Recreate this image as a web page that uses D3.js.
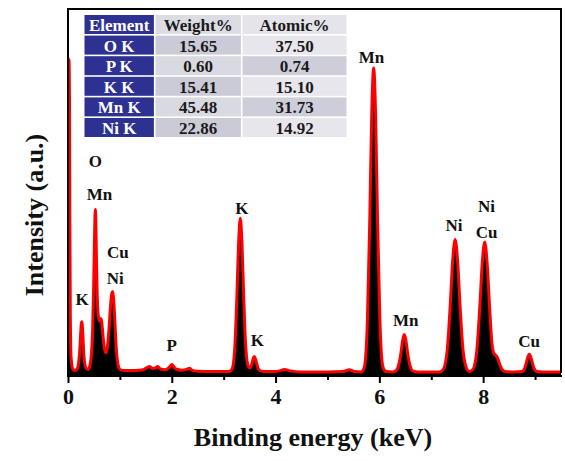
<!DOCTYPE html>
<html>
<head>
<meta charset="utf-8">
<script src="https://cdn.jsdelivr.net/npm/d3@7"></script>
<style>
  html, body { margin: 0; padding: 0; background: #fff; }
  svg { display: block; }
  text { font-family: "Liberation Serif", "Times New Roman", serif; font-weight: bold; }
</style>
</head>
<body>
<svg id="chart" width="565" height="461"></svg>
<script>
// EDS spectrum: energy (keV) and counts (arbitrary units)
const energyKeV = [
  0, 0.02, 0.03, 0.036, 0.045, 0.06, 0.09, 0.13,
  0.17, 0.205, 0.228, 0.243, 0.255, 0.265, 0.276, 0.288, 0.303, 0.328, 0.358, 0.39,
  0.42, 0.45, 0.475, 0.495, 0.51, 0.52, 0.527, 0.535, 0.547, 0.563, 0.583, 0.605, 0.625, 0.642, 0.66, 0.685, 0.71, 0.735,
  0.76, 0.79, 0.82, 0.845, 0.862, 0.878, 0.9, 0.925, 0.95, 0.98, 1.02,
  1.1, 1.3, 1.45, 1.52, 1.57, 1.62, 1.67, 1.73, 1.78, 1.88, 1.94, 1.97, 2.0, 2.03, 2.08, 2.2, 2.3, 2.34, 2.39, 2.5, 2.8, 3.1,
  3.164, 3.216, 3.255, 3.2875, 3.32, 3.3525, 3.385, 3.424, 3.476,
  3.51, 3.54, 3.565, 3.59, 3.615, 3.64, 3.67, 3.71, 3.8,
  3.95, 4.08, 4.17, 4.28, 4.5, 5.0, 5.3, 5.42, 5.52, 5.65,
  5.71, 5.77, 5.815, 5.852, 5.89, 5.928, 5.965, 6.01, 6.07, 6.13,
  6.25, 6.32, 6.368, 6.415, 6.448, 6.48, 6.512, 6.545, 6.592, 6.64, 6.75,
  7.16, 7.232, 7.308, 7.365, 7.4125, 7.46, 7.5075, 7.555, 7.612, 7.688, 7.73,
  7.802, 7.878, 7.935, 7.9825, 8.03, 8.0775, 8.125, 8.17, 8.205, 8.24, 8.275, 8.32, 8.37, 8.43, 8.6,
  8.746, 8.794, 8.83, 8.86, 8.89, 8.92, 8.95, 8.986, 9.034, 9.15, 9.5
];
const counts = [
  865, 860, 720, 420, 160, 50, 20, 15,
  18, 36, 72, 112, 140, 148, 138, 108, 64, 30, 20, 18,
  28, 58, 128, 248, 368, 438, 454, 428, 330, 220, 165, 150, 157, 154, 133, 94, 70, 63,
  80, 128, 192, 226, 230, 212, 158, 88, 44, 23, 16,
  15, 15, 17, 23, 26, 21, 21, 26, 19, 17, 22, 27, 31, 27, 19, 16, 19, 21, 16, 13, 12, 12,
  20, 82, 220, 362, 430, 362, 220, 82, 26,
  22, 32, 46, 53, 46, 32, 19, 14, 12,
  12, 14, 18, 14, 11, 11, 12, 17, 12, 11,
  24, 153, 425, 708, 839, 708, 425, 153, 24, 12,
  11, 14, 28, 62, 97, 113, 97, 62, 28, 14, 11,
  11, 18, 71, 191, 314, 372, 314, 191, 71, 18, 12,
  18, 70, 188, 308, 365, 306, 186, 88, 62, 57, 50, 32, 17, 12, 11,
  12, 19, 35, 51, 59, 51, 35, 19, 12, 11, 11
];

// Peak annotations (anchor in keV / counts)
const peakLabels = ["O", "Mn", "Cu", "Ni", "K", "P", "K", "K", "Mn", "Mn", "Ni", "Ni", "Cu", "Cu"];
const peakLabelKeV = [0.525, 0.608, 0.962, 0.91, 0.27, 2.0, 3.35, 3.65, 5.85, 6.51, 7.44, 8.065, 8.065, 8.885];
const peakLabelCounts = [584, 495, 336, 266, 209, 84, 457, 96, 868, 150, 409, 461, 390, 95];

// Quantification table
const tableHeader = ["Element", "Weight%", "Atomic%"];
const elements = ["O K", "P K", "K K", "Mn K", "Ni K"];
const weightPct = ["15.65", "0.60", "15.41", "45.48", "22.86"];
const atomicPct = ["37.50", "0.74", "15.10", "31.73", "14.92"];

// Axis ticks
const majorTicks = [0, 2, 4, 6, 8];
const minorTicks = [1, 3, 5, 7, 9];

const svg = d3.select("#chart");
const plot = { left: 68, right: 561, top: 9, bottom: 376 };

const x = d3.scaleLinear().domain([0, 9.5]).range([plot.left, plot.right]);
const y = d3.scaleLinear().domain([0, 1000]).range([plot.bottom, plot.top]);

const spectrum = energyKeV.map((e, i) => ({ e, c: counts[i] }));

svg.append("defs").append("clipPath").attr("id", "plotClip")
  .append("rect")
  .attr("x", plot.left - 1).attr("y", plot.top)
  .attr("width", plot.right - plot.left + 1).attr("height", plot.bottom - plot.top);

const g = svg.append("g").attr("clip-path", "url(#plotClip)");

const area = d3.area()
  .x(d => x(d.e)).y0(y(0)).y1(d => y(d.c))
  .curve(d3.curveMonotoneX);
const line = d3.line()
  .x(d => x(d.e)).y(d => y(d.c))
  .curve(d3.curveMonotoneX);

g.append("path").datum(spectrum).attr("d", area).attr("fill", "#000");
g.append("path").datum(spectrum).attr("d", line)
  .attr("fill", "none").attr("stroke", "#ff0000").attr("stroke-width", 3)
  .attr("stroke-linejoin", "round");

// Frame
svg.append("path")
  .attr("d", `M${plot.left},${plot.bottom} V${plot.top} H${plot.right} V${plot.bottom - 3}`)
  .attr("fill", "none").attr("stroke", "#000").attr("stroke-width", 2);

// Bottom axis: labelled major ticks and short minor ticks
const axisMajor = d3.axisBottom(x).tickValues(majorTicks).tickSize(7).tickPadding(5).tickFormat(d3.format("d"));
const axisMinor = d3.axisBottom(x).tickValues(minorTicks).tickSize(4).tickFormat("");

const gMinor = svg.append("g").attr("transform", `translate(0,${plot.bottom})`).call(axisMinor);
const gMajor = svg.append("g").attr("transform", `translate(0,${plot.bottom})`).call(axisMajor);
[gMinor, gMajor].forEach(a => {
  a.select(".domain").remove();
  a.selectAll(".tick line").attr("stroke", "#000").attr("stroke-width", 2);
});
gMajor.selectAll(".tick text")
  .attr("font-size", 22).attr("fill", "#111")
  .attr("font-family", "'Liberation Serif', 'Times New Roman', serif")
  .attr("font-weight", "bold");
svg.append("line")
  .attr("x1", plot.left - 1).attr("x2", plot.right + 1)
  .attr("y1", plot.bottom).attr("y2", plot.bottom)
  .attr("stroke", "#000").attr("stroke-width", 2);

// Axis titles
svg.append("text")
  .attr("x", 313).attr("y", 446)
  .attr("text-anchor", "middle").attr("font-size", 26).attr("fill", "#111")
  .text("Binding energy (keV)");
svg.append("text")
  .attr("transform", "translate(43,215) rotate(-90)")
  .attr("text-anchor", "middle").attr("font-size", 26).attr("fill", "#111")
  .text("Intensity (a.u.)");

// Peak labels
svg.append("g").selectAll("text")
  .data(peakLabels)
  .join("text")
  .attr("x", (d, i) => x(peakLabelKeV[i]))
  .attr("y", (d, i) => y(peakLabelCounts[i]))
  .attr("text-anchor", "middle").attr("dominant-baseline", "central")
  .attr("font-size", 17).attr("fill", "#111")
  .text(d => d);

// Composition table
const table = { x: 84.5, y: 15, colW: [71, 87, 104], rowH: 20.6, gap: 1.6 };
const headerFill = ["#2d3192", "#dcdce3", "#e4e4ea"];
const rowFills = [
  ["#2d3192", "#cbcbd7", "#e6e6ec"],
  ["#2d3192", "#d9d9e1", "#ceceda"],
  ["#2d3192", "#cbcbd7", "#e6e6ec"],
  ["#2d3192", "#d9d9e1", "#ceceda"],
  ["#2d3192", "#cbcbd7", "#e6e6ec"]
];
const rows = [tableHeader].concat(elements.map((el, i) => [el, weightPct[i], atomicPct[i]]));
const fills = [headerFill].concat(rowFills);
const colX = [table.x, table.x + table.colW[0], table.x + table.colW[0] + table.colW[1]];
const tg = svg.append("g");
rows.forEach((row, r) => {
  row.forEach((cell, c) => {
    const cx = colX[c], cy = table.y + r * table.rowH;
    const w = table.colW[c] - (c < 2 ? table.gap : 0);
    const h = table.rowH - table.gap;
    tg.append("rect").attr("x", cx).attr("y", cy).attr("width", w).attr("height", h)
      .attr("fill", fills[r][c]);
    tg.append("text")
      .attr("x", cx + w / 2).attr("y", cy + h / 2 + 1)
      .attr("text-anchor", "middle").attr("dominant-baseline", "central")
      .attr("font-size", 17)
      .attr("fill", c === 0 ? "#fff" : "#1a1a1a")
      .text(cell);
  });
});
</script>
</body>
</html>
